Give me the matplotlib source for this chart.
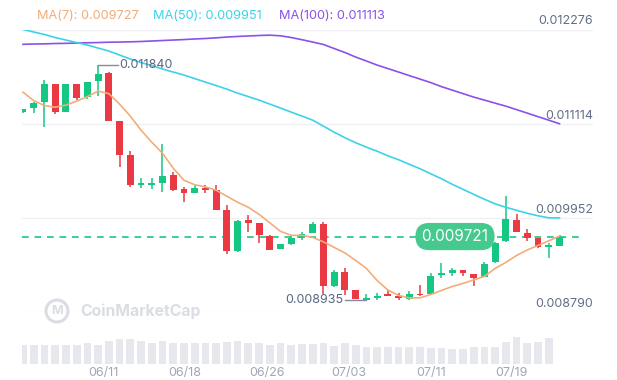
import matplotlib
matplotlib.use("Agg")
import matplotlib.pyplot as plt
from matplotlib.patches import Rectangle, Circle
from matplotlib import transforms

plt.rcParams['font.family'] = ['Inter', 'DejaVu Sans']

# ---------------- data ----------------
opens = [0.011256, 0.011302, 0.011384, 0.011602, 0.011260, 0.011602, 0.011445, 0.011643, 0.011735, 0.011145,
         0.010725, 0.010360, 0.010360, 0.010382, 0.010477, 0.010304, 0.010264, 0.010325, 0.010292, 0.010053,
         0.009542, 0.009921, 0.009888, 0.009727, 0.009563, 0.009633, 0.009707, 0.009769, 0.009872, 0.009105,
         0.009282, 0.009056, 0.008941, 0.008961, 0.009015, 0.008982, 0.008953, 0.009015, 0.009015, 0.009247,
         0.009270, 0.009303, 0.009262, 0.009220, 0.009406, 0.009665, 0.009930, 0.009764, 0.009707, 0.009594,
         0.009600]
highs = [0.011293, 0.011384, 0.011652, 0.011602, 0.011602, 0.011602, 0.011631, 0.011840, 0.011751, 0.011145,
         0.010778, 0.010440, 0.010440, 0.010869, 0.010518, 0.010333, 0.010357, 0.010354, 0.010354, 0.010107,
         0.009921, 0.009983, 0.009888, 0.009736, 0.009633, 0.009723, 0.009776, 0.009900, 0.009900, 0.009303,
         0.009336, 0.009056, 0.009015, 0.009019, 0.009064, 0.009019, 0.009043, 0.009118, 0.009270, 0.009393,
         0.009328, 0.009303, 0.009262, 0.009402, 0.009653, 0.010220, 0.010004, 0.009818, 0.009707, 0.009640,
         0.009736]
lows = [0.011244, 0.011244, 0.011074, 0.011231, 0.011260, 0.011405, 0.011417, 0.011454, 0.011145, 0.010576,
        0.010333, 0.010317, 0.010304, 0.010271, 0.010283, 0.010147, 0.010264, 0.010258, 0.010053, 0.009501,
        0.009529, 0.009776, 0.009645, 0.009559, 0.009563, 0.009612, 0.009683, 0.009769, 0.009015, 0.009093,
        0.008994, 0.008945, 0.008935, 0.008944, 0.008982, 0.008938, 0.008940, 0.008982, 0.009006, 0.009213,
        0.009229, 0.009229, 0.009105, 0.009216, 0.009389, 0.009653, 0.009776, 0.009665, 0.009575, 0.009460,
        0.009600]
closes = [0.011293, 0.011371, 0.011602, 0.011260, 0.011602, 0.011433, 0.011631, 0.011726, 0.011145, 0.010725,
          0.010354, 0.010372, 0.010372, 0.010469, 0.010301, 0.010264, 0.010325, 0.010292, 0.010053, 0.009542,
          0.009909, 0.009888, 0.009736, 0.009559, 0.009624, 0.009707, 0.009748, 0.009872, 0.009105, 0.009282,
          0.009064, 0.008950, 0.008966, 0.008985, 0.008985, 0.008966, 0.009015, 0.008994, 0.009232, 0.009259,
          0.009312, 0.009270, 0.009213, 0.009386, 0.009637, 0.009942, 0.009776, 0.009707, 0.009591, 0.009606,
          0.009721]

ma7 = [0.011503, 0.011398, 0.011337, 0.011318, 0.011343, 0.011392, 0.011448, 0.011516, 0.011485, 0.011355,
       0.011207, 0.011034, 0.010885, 0.010749, 0.010564, 0.010416, 0.010360, 0.010335, 0.010292, 0.010218,
       0.010144, 0.010082, 0.009995, 0.009890, 0.009785, 0.009736, 0.009736, 0.009711, 0.009655, 0.009587,
       0.009519, 0.009427, 0.009328, 0.009179, 0.009062, 0.008994, 0.008963, 0.008965, 0.009006, 0.009056,
       0.009105, 0.009142, 0.009186, 0.009229, 0.009328, 0.009402, 0.009488, 0.009556, 0.009612, 0.009668,
       0.009727]
ma50 = [0.012276, 0.012245, 0.012214, 0.012177, 0.012146, 0.012115, 0.012084, 0.012047, 0.012010, 0.011961,
        0.011911, 0.011868, 0.011831, 0.011788, 0.011751, 0.011714, 0.011670, 0.011627, 0.011584, 0.011540,
        0.011491, 0.011448, 0.011405, 0.011355, 0.011306, 0.011256, 0.011207, 0.011157, 0.011083, 0.011009,
        0.010941, 0.010879, 0.010824, 0.010774, 0.010718, 0.010669, 0.010613, 0.010558, 0.010496, 0.010434,
        0.010366, 0.010304, 0.010242, 0.010181, 0.010125, 0.010082, 0.010045, 0.010008, 0.009977, 0.009952,
        0.009951]
ma100 = [0.012093, 0.012097, 0.012099, 0.012103, 0.012105, 0.012109, 0.012112, 0.012115, 0.012119, 0.012121,
         0.012124, 0.012128, 0.012134, 0.012140, 0.012146, 0.012152, 0.012159, 0.012165, 0.012173, 0.012183,
         0.012190, 0.012196, 0.012202, 0.012206, 0.012198, 0.012177, 0.012150, 0.012121, 0.012091, 0.012041,
         0.011992, 0.011936, 0.011887, 0.011837, 0.011794, 0.011751, 0.011707, 0.011664, 0.011621, 0.011571,
         0.011528, 0.011485, 0.011442, 0.011405, 0.011367, 0.011330, 0.011287, 0.011244, 0.011200, 0.011157,
         0.011113]

volume = [19, 19, 19, 19, 19, 19, 20.7, 19, 23.3, 24.7,
          24.7, 23.3, 20.7, 23.3, 21.3, 21.3, 21.3, 20.7, 21.3, 22.3,
          23.3, 21.3, 20.7, 19, 21.3, 19, 20, 20, 21.3, 18,
          20.7, 19, 16.7, 16.7, 16.7, 16.7, 16.7, 16.7, 15.7, 15.7,
          15, 15, 16.7, 16.7, 16.7, 22.3, 26.7, 20.7, 22.3, 25.7]

date_labels = ['06/11', '06/18', '06/26', '07/03', '07/11', '07/19']
date_pos = [7.48, 15.10, 22.71, 30.32, 38.0, 45.55]
grid_levels = [0.012276, 0.011114, 0.009952, 0.008790]
last_price = 0.009721
high_price, high_idx = 0.011840, 7
low_price, low_idx = 0.008935, 32
legend_items = [("MA(7)", 0.009727), ("MA(50)", 0.009951), ("MA(100)", 0.011113)]

# ---------------- style ----------------
W, H = 617, 380
GREEN = '#16c784'
RED = '#ea3943'
C_MA7 = '#f2ad78'
C_MA50 = '#3dd2e8'
C_MA100 = '#8a52e6'
GRID = '#eef0f3'
LABEL = '#616e85'

fig = plt.figure(figsize=(W / 100, H / 100), dpi=100, facecolor='white')

x0, x1 = -0.093, 53.12
ax = fig.add_axes([22 / W, (H - 312) / H, (593 - 22) / W, (312 - 29.5) / H])
ax.set_xlim(x0, x1)
ax.set_ylim(grid_levels[-1], grid_levels[0])
ax.axis('off')

for g in grid_levels:
    ax.axhline(g, color=GRID, lw=1.0, zorder=0)
    ax.annotate(f"{g:.6f}", xy=(1.0, g), xycoords=('axes fraction', 'data'),
                xytext=(0, 1.5), textcoords='offset points', ha='right', va='bottom',
                fontsize=9.0, color=LABEL, annotation_clip=False)

# current price dashed line
ax.axhline(last_price, xmin=0, xmax=0.977, color=GREEN, lw=1.2, dashes=(4, 3.5), zorder=1)

# candles
bw = 0.64
minh = 1.6 / 80893
for i, (o, h, l, c) in enumerate(zip(opens, highs, lows, closes)):
    col = GREEN if c >= o else RED
    ax.vlines(i, l, h, color=col, lw=1.1, zorder=3)
    bottom = min(o, c)
    height = max(abs(c - o), minh)
    ax.add_patch(Rectangle((i - bw / 2, bottom), bw, height, facecolor=col, edgecolor='none', zorder=4))

idx = list(range(len(closes)))
ax.plot(idx, ma100, color=C_MA100, lw=1.2, zorder=5)
ax.plot(idx, ma50, color=C_MA50, lw=1.2, zorder=5)
ax.plot(idx, ma7, color=C_MA7, lw=1.2, zorder=5)

# high / low annotations
ax.plot([high_idx, high_idx + 1.85], [high_price, high_price], color='#858ca0', lw=1.0, zorder=6)
ax.text(high_idx + 2.0, high_price, f"{high_price:.6f}", ha='left', va='center',
        fontsize=9.0, color='#58667e', zorder=6)
ax.plot([low_idx - 2.0, low_idx], [low_price, low_price], color='#858ca0', lw=1.0, zorder=6)
ax.text(low_idx - 2.1, low_price, f"{low_price:.6f}", ha='right', va='center',
        fontsize=9.0, color='#58667e', zorder=6)

# current price label
ax.text(40.26, last_price, f"{last_price:.6f}", ha='center', va='center', fontsize=11,
        color='white', zorder=10,
        bbox=dict(boxstyle='round,pad=0.4,rounding_size=0.9', fc='#45c98e', ec='none'))

# legend
leg_x = [37, 153, 279]
for (name, val), lx, col in zip(legend_items, leg_x, [C_MA7, C_MA50, C_MA100]):
    fig.text(lx / W, 1 - 16 / H, f"{name}: {val:.6f}", color=col, fontsize=9.2,
             ha='left', va='center')

# volume
vax = fig.add_axes([22 / W, (H - 364) / H, (593 - 22) / W, 30 / H])
vax.set_xlim(x0, x1)
vax.set_ylim(0, 30)
vax.axis('off')
vax.bar(range(len(volume)), volume, width=0.72, color='#e6e8ed', zorder=1)

trans = transforms.blended_transform_factory(vax.transData, fig.transFigure)
for lab, p in zip(date_labels, date_pos):
    vax.text(p, 1 - 373 / H, lab, transform=trans, ha='center', va='center',
             fontsize=9.0, color='#a0a6b4', clip_on=False)

# watermark
WM = '#dadde2'
fig.add_artist(Circle((57 / 100, (H - 311) / 100), 0.11, transform=fig.dpi_scale_trans,
                      fill=False, ec=WM, lw=2.2))
fig.text(57.5 / W, 1 - 311.5 / H, "M", ha='center', va='center', fontsize=9,
         fontweight='bold', color=WM)
fig.text(80 / W, 1 - 311 / H, "CoinMarketCap", ha='left', va='center', fontsize=11.3,
         fontweight='bold', color=WM)

fig.savefig('out.png', dpi=100, facecolor='white')
